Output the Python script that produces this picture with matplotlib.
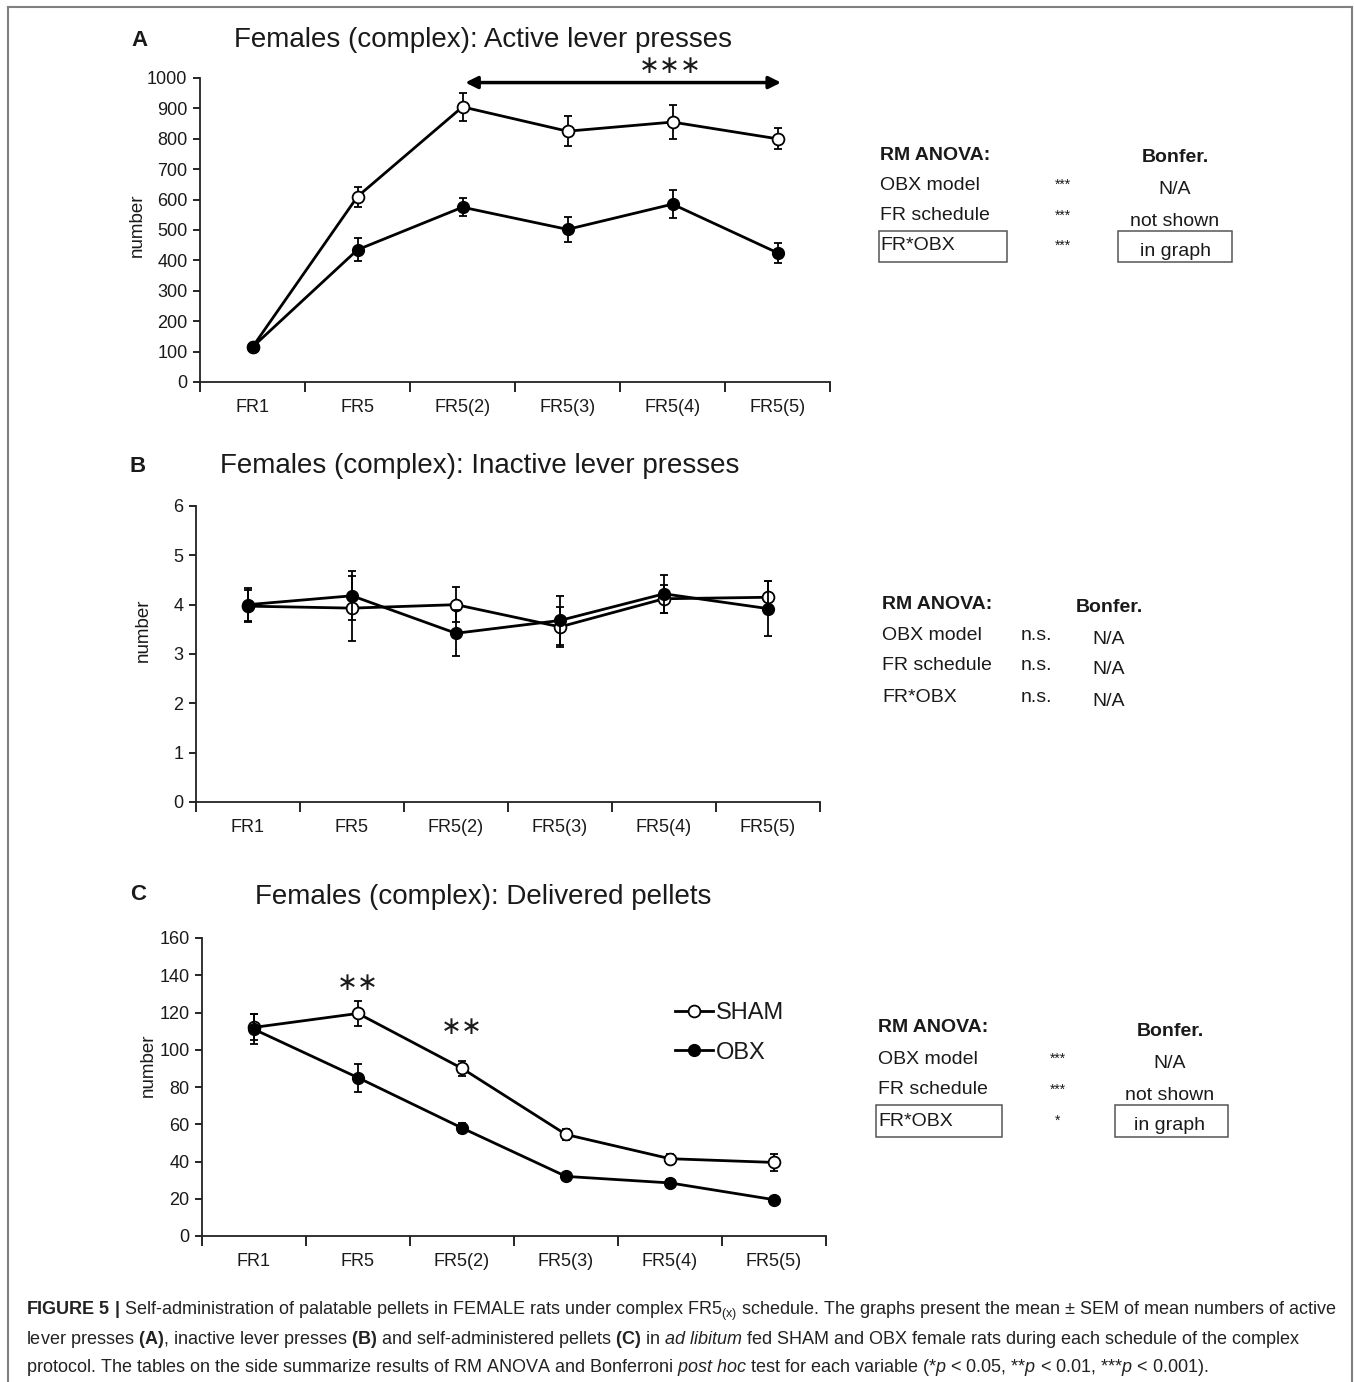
import matplotlib
matplotlib.use("Agg")
import matplotlib.pyplot as plt
from matplotlib.lines import Line2D
from matplotlib.patches import Rectangle
import numpy as np

plt.rcParams['font.family'] = ['Liberation Sans', 'DejaVu Sans']
plt.rcParams['mathtext.fontset'] = 'custom'
plt.rcParams['mathtext.rm'] = 'Liberation Sans'
plt.rcParams['mathtext.it'] = 'Liberation Sans:italic'
plt.rcParams['mathtext.bf'] = 'Liberation Sans:bold'

# data
schedules = ['FR1', 'FR5', 'FR5(2)', 'FR5(3)', 'FR5(4)', 'FR5(5)']

active_sham = [115, 610, 905, 825, 855, 800]
active_sham_err = [10, 33, 45, 50, 55, 34]
active_obx = [115, 435, 575, 502, 585, 425]
active_obx_err = [8, 38, 30, 40, 45, 33]

inactive_sham = [3.97, 3.93, 4.00, 3.55, 4.12, 4.15]
inactive_sham_err = [0.33, 0.66, 0.35, 0.40, 0.28, 0.32]
inactive_obx = [4.00, 4.18, 3.42, 3.68, 4.22, 3.92]
inactive_obx_err = [0.33, 0.50, 0.47, 0.49, 0.38, 0.55]

pellets_sham = [112, 119.5, 90, 54.5, 41.5, 39.5]
pellets_sham_err = [7, 6.5, 4, 3, 2.5, 4.5]
pellets_obx = [111, 85, 58, 32, 28.5, 19.5]
pellets_obx_err = [8, 7.5, 2.5, 2, 2, 1.5]

W, H = 1354, 1382
TXT = '#1a1a1a'
STAR = '\u2217'

fig = plt.figure(figsize=(W / 100, H / 100), dpi=100)


def px_rect(l, t, r, b):
    return [l / W, 1 - b / H, (r - l) / W, (b - t) / H]


def ftext(x, y, s, **kw):
    kw.setdefault('color', TXT)
    return fig.text(x / W, 1 - y / H, s, **kw)


def fbox(x1, y1, x2, y2):
    fig.add_artist(Rectangle((x1 / W, 1 - y2 / H), (x2 - x1) / W, (y2 - y1) / H,
                             transform=fig.transFigure, fill=False, lw=1.1, ec='#555555'))


def panel(rect, sham, sham_err, obx, obx_err, ylim, yticks):
    ax = fig.add_axes(px_rect(*rect))
    x = np.arange(len(schedules))
    ax.errorbar(x, sham, yerr=sham_err, color='black', lw=2, marker='o', ms=8.5,
                mfc='white', mec='black', mew=1.3, capsize=3, elinewidth=1.3,
                capthick=1.3, zorder=3)
    ax.errorbar(x, obx, yerr=obx_err, color='black', lw=2, marker='o', ms=8.5,
                mfc='black', mec='black', capsize=3, elinewidth=1.3,
                capthick=1.3, zorder=4)
    ax.set_xlim(-0.5, len(schedules) - 0.5)
    ax.set_ylim(*ylim)
    ax.set_yticks(yticks)
    ax.set_xticks(x)
    ax.set_xticklabels(schedules)
    ax.set_xticks(np.arange(-0.5, len(schedules), 1), minor=True)
    ax.tick_params(axis='x', which='major', length=0, pad=12, labelsize=13, labelcolor=TXT)
    ax.tick_params(axis='x', which='minor', length=7, width=1.2, direction='out')
    ax.tick_params(axis='y', length=5, width=1.2, direction='out', pad=4,
                   labelsize=13, labelcolor=TXT)
    for s in ['top', 'right']:
        ax.spines[s].set_visible(False)
    for s in ['left', 'bottom']:
        ax.spines[s].set_linewidth(1.3)
        ax.spines[s].set_color('#222222')
    return ax


# panel A
axA = panel((200, 78, 830, 382), active_sham, active_sham_err, active_obx, active_obx_err,
            (0, 1000), range(0, 1001, 100))
axA.annotate('', xy=(5.06, 985), xytext=(2.0, 985),
             arrowprops=dict(arrowstyle='<|-|>', lw=2.5, color='black',
                             mutation_scale=18), annotation_clip=False)
axA.text(3.98, 1040, STAR * 3, ha='center', va='center', fontsize=18, color=TXT,
         family='DejaVu Sans', clip_on=False)
ftext(140, 40, 'A', fontsize=16, fontweight='bold', ha='center', va='center')
ftext(483, 40, 'Females (complex): Active lever presses', fontsize=20, ha='center', va='center')
ftext(137, 225, 'number', fontsize=13.5, rotation=90, ha='center', va='center')

# panel B
axB = panel((196, 506, 820, 802), inactive_sham, inactive_sham_err, inactive_obx, inactive_obx_err,
            (0, 6), range(0, 7))
ftext(138, 466, 'B', fontsize=16, fontweight='bold', ha='center', va='center')
ftext(480, 466, 'Females (complex): Inactive lever presses', fontsize=20, ha='center', va='center')
ftext(143, 630, 'number', fontsize=13.5, rotation=90, ha='center', va='center')

# panel C
axC = panel((202, 938, 826, 1236), pellets_sham, pellets_sham_err, pellets_obx, pellets_obx_err,
            (0, 160), range(0, 161, 20))
axC.text(1, 136, STAR * 2, ha='center', va='center', fontsize=18, color=TXT, family='DejaVu Sans')
axC.text(2, 112, STAR * 2, ha='center', va='center', fontsize=18, color=TXT, family='DejaVu Sans')
handles = [Line2D([], [], color='black', lw=2, marker='o', ms=8.5, mfc='white', mec='black', mew=1.3),
           Line2D([], [], color='black', lw=2, marker='o', ms=8.5, mfc='black', mec='black')]
axC.legend(handles, ['SHAM', 'OBX'], loc='upper left', bbox_to_anchor=(675 / W, 1 - 1002 / H),
           bbox_transform=fig.transFigure, frameon=False, fontsize=17,
           handlelength=1.6, handletextpad=0.15, labelspacing=0.75, borderpad=0,
           borderaxespad=0, labelcolor=TXT)
ftext(138, 895, 'C', fontsize=16, fontweight='bold', ha='center', va='center')
ftext(483, 897, 'Females (complex): Delivered pellets', fontsize=20, ha='center', va='center')
ftext(148, 1065, 'number', fontsize=13.5, rotation=90, ha='center', va='center')

# side tables
ftext(880, 155, 'RM ANOVA:', fontsize=14, fontweight='bold', va='center')
ftext(1175, 158, 'Bonfer.', fontsize=14, fontweight='bold', ha='center', va='center')
for y, name, sig, bonf in [(185, 'OBX model', '***', 'N/A'),
                           (216, 'FR schedule', '***', 'not shown'),
                           (246, 'FR*OBX', '***', 'in graph')]:
    ftext(880, y, name, fontsize=14, va='center')
    ftext(1063, y, sig, fontsize=10, ha='center', va='center')
    ftext(1175, y + 5, bonf, fontsize=14, ha='center', va='center')
fbox(879, 231, 1007, 262)
fbox(1118, 231, 1232, 262)

ftext(882, 604, 'RM ANOVA:', fontsize=14, fontweight='bold', va='center')
ftext(1109, 608, 'Bonfer.', fontsize=14, fontweight='bold', ha='center', va='center')
for y, name in [(636, 'OBX model'), (666, 'FR schedule'), (697, 'FR*OBX')]:
    ftext(882, y, name, fontsize=14, va='center')
    ftext(1036, y, 'n.s.', fontsize=14, ha='center', va='center')
    ftext(1109, y + 4, 'N/A', fontsize=14, ha='center', va='center')

ftext(878, 1027, 'RM ANOVA:', fontsize=14, fontweight='bold', va='center')
ftext(1170, 1031, 'Bonfer.', fontsize=14, fontweight='bold', ha='center', va='center')
for y, name, sig, bonf in [(1059, 'OBX model', '***', 'N/A'),
                           (1090, 'FR schedule', '***', 'not shown'),
                           (1121, 'FR*OBX', '*', 'in graph')]:
    ftext(878, y, name, fontsize=14, va='center')
    ftext(1058, y, sig, fontsize=10, ha='center', va='center')
    ftext(1170, y + 5, bonf, fontsize=14, ha='center', va='center')
fbox(876, 1105, 1002, 1137)
fbox(1115, 1105, 1228, 1137)

# caption
cap = [
    r'$\mathbf{FIGURE\ 5\ |}$ Self-administration of palatable pellets in FEMALE rats under complex FR5$_{\mathrm{(x)}}$ schedule. '
    r'The graphs present the mean ± SEM of mean numbers of active',
    r'lever presses $\mathbf{(A)}$, inactive lever presses $\mathbf{(B)}$ and self-administered pellets $\mathbf{(C)}$ in '
    r'$\mathit{ad\ libitum}$ fed SHAM and OBX female rats during each schedule of the complex',
    r'protocol. The tables on the side summarize results of RM ANOVA and Bonferroni $\mathit{post\ hoc}$ test for each '
    r'variable (*$\mathit{p}$ < 0.05, **$\mathit{p}$ < 0.01, ***$\mathit{p}$ < 0.001).',
]
for i, line in enumerate(cap):
    ftext(26, 1311 + i * 28, line, fontsize=13, va='center', color='#222222')

# outer frame
for xs, ys in [((8, 8), (7, H)), ((8, 1352), (7, 7)), ((1352, 1352), (7, H))]:
    fig.add_artist(Line2D([x / W for x in xs], [1 - y / H for y in ys],
                          transform=fig.transFigure, color='#808080', lw=1.5))

fig.savefig('out.png', dpi=100)
plt.close(fig)
